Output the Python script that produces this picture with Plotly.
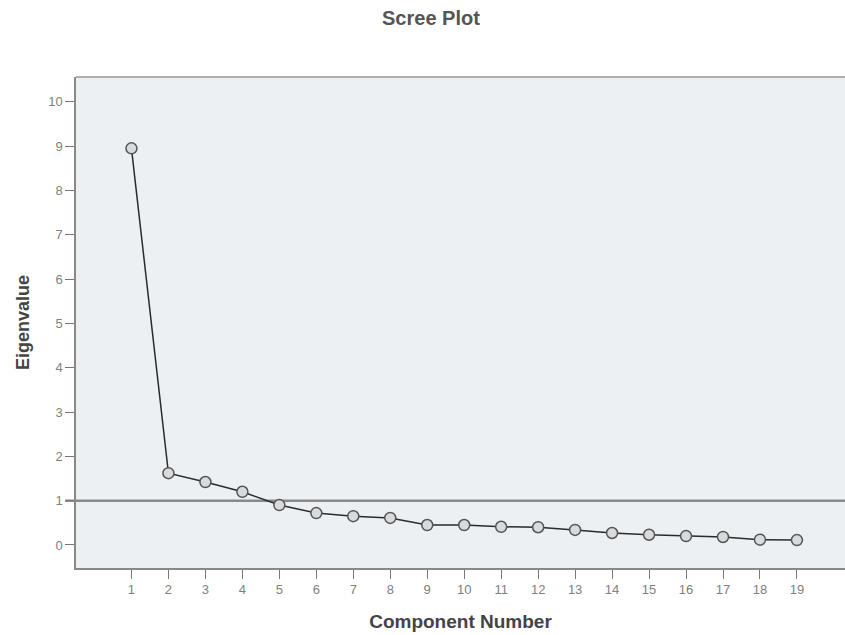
import plotly.graph_objects as go

components = list(range(1, 20))
eigenvalues = [8.95, 1.62, 1.42, 1.20, 0.90, 0.72, 0.65, 0.61, 0.45, 0.45,
               0.41, 0.40, 0.34, 0.27, 0.23, 0.20, 0.18, 0.12, 0.11]
y_ticks = list(range(0, 11))
reference_line = 1

fig = go.Figure()
fig.add_trace(go.Scatter(
    x=components, y=eigenvalues, mode="lines+markers",
    line=dict(color="#2a2a2a", width=1.5),
    marker=dict(symbol="circle", size=11, color="#d8dadb",
                line=dict(color="#555555", width=1.5)),
    showlegend=False, cliponaxis=False,
))

fig.add_shape(type="line", xref="paper", yref="y",
              x0=-0.014, x1=1, y0=reference_line, y1=reference_line,
              line=dict(color="#8a8a8a", width=2.5), layer="below")

fam = "Liberation Sans, Arial, sans-serif"
axis_font = dict(family=fam, size=13, color="#808080")

fig.update_layout(
    width=845, height=635,
    margin=dict(l=76, r=0, t=77, b=67),
    paper_bgcolor="white",
    plot_bgcolor="#edf0f2",
    title=dict(text="<b>Scree Plot</b>", x=0.51, xanchor="center", y=0.971, yanchor="middle",
               font=dict(family=fam, size=20, color="#555555")),
    xaxis=dict(range=[-0.5, 20.3], tickvals=components, ticks="outside", ticklen=9,
               tickcolor="#777777", tickwidth=1.3, showgrid=False, zeroline=False,
               showline=True, linecolor="#888888", linewidth=1.5,
               tickfont=axis_font,
               title=dict(text="<b>Component Number</b>",
                          font=dict(family=fam, size=19, color="#444444"), standoff=18)),
    yaxis=dict(range=[-0.52, 10.56], tickvals=y_ticks, ticks="outside", ticklen=9,
               tickcolor="#777777", tickwidth=1.3, showgrid=False, zeroline=False,
               showline=True, linecolor="#888888", linewidth=1.5, mirror=False,
               tickfont=axis_font,
               title=dict(text="<b>Eigenvalue</b>",
                          font=dict(family=fam, size=18, color="#444444"), standoff=14)),
)

fig.add_shape(type="line", xref="paper", yref="paper", x0=0, x1=1, y0=1, y1=1,
              line=dict(color="#999999", width=1.5))

fig.write_html("out.html")
